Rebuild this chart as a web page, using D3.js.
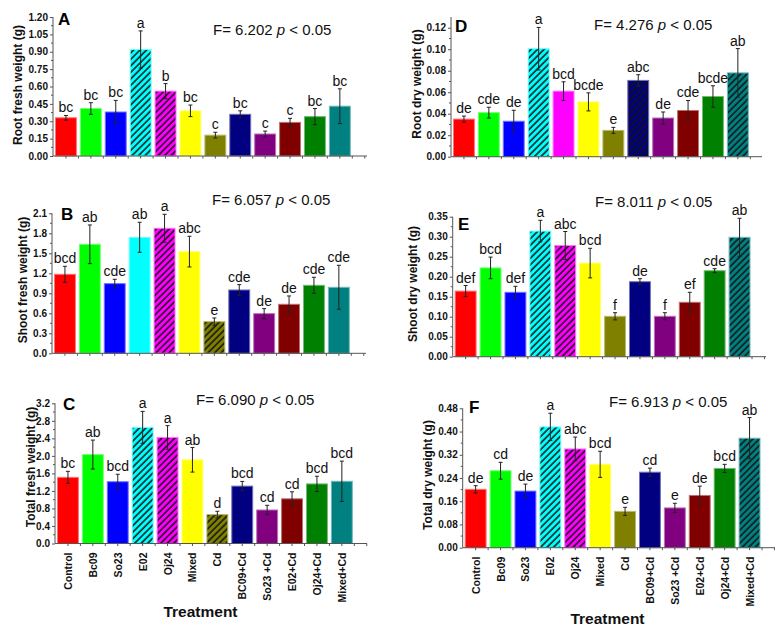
<!DOCTYPE html>
<html><head><meta charset="utf-8">
<script src="https://cdnjs.cloudflare.com/ajax/libs/d3/7.8.5/d3.min.js"></script>
<style>
html,body{margin:0;padding:0;background:#fff;}
svg{display:block;font-family:"Liberation Sans",Arial,Helvetica,sans-serif;}
</style></head>
<body><svg id="chart" width="782" height="633"></svg>
<script>
const categories = ["Control","Bc09","So23","E02","Oj24","Mixed","Cd","BC09+Cd","So23 +Cd","E02+Cd","Oj24+Cd","Mixed+Cd"];
const colors = ["#ff0000","#00ff00","#0000ff","#00ffff","#ff00ff","#ffff00","#808000","#000080","#800080","#800000","#008000","#008080"];

const rootFresh = [0.33,0.41,0.38,0.92,0.56,0.39,0.18,0.36,0.19,0.29,0.34,0.43];
const rootFreshErr = [0.02,0.05,0.10,0.16,0.065,0.05,0.025,0.03,0.025,0.035,0.07,0.15];
const rootFreshLetters = ["bc","bc","bc","a","b","bc","c","bc","c","c","bc","bc"];
const rootFreshHatch = [3,4];

const shootFresh = [1.185,1.635,1.045,1.74,1.875,1.525,0.475,0.95,0.595,0.735,1.02,0.99];
const shootFreshErr = [0.12,0.29,0.065,0.225,0.21,0.23,0.055,0.08,0.075,0.125,0.12,0.33];
const shootFreshLetters = ["bcd","ab","cde","ab","a","abc","e","cde","de","de","cde","cde"];
const shootFreshHatch = [4,6];

const totalFresh = [1.51,2.03,1.41,2.65,2.42,1.91,0.66,1.31,0.765,1.02,1.36,1.42];
const totalFreshErr = [0.137,0.33,0.17,0.365,0.27,0.28,0.076,0.107,0.107,0.16,0.175,0.46];
const totalFreshLetters = ["bc","ab","bcd","a","a","ab","d","bcd","cd","cd","bcd","bcd"];
const totalFreshHatch = [3,4,6];

const rootDry = [0.035,0.041,0.033,0.1005,0.061,0.051,0.0245,0.071,0.036,0.043,0.056,0.078];
const rootDryErr = [0.0028,0.005,0.0102,0.0198,0.0087,0.0084,0.0028,0.0053,0.0056,0.0093,0.01,0.0226];
const rootDryLetters = ["de","cde","de","a","bcd","bcde","e","abc","de","cde","bcde","ab"];
const rootDryHatch = [3,7,11];

const shootDry = [0.164,0.222,0.161,0.314,0.278,0.234,0.101,0.1875,0.101,0.136,0.215,0.2985];
const shootDryErr = [0.014,0.027,0.015,0.027,0.035,0.037,0.009,0.0075,0.009,0.025,0.005,0.0475];
const shootDryLetters = ["def","bcd","def","a","abc","bcd","f","de","f","ef","cde","ab"];
const shootDryHatch = [3,4,11];

const totalDry = [0.201,0.265,0.195,0.416,0.34,0.287,0.125,0.26,0.137,0.18,0.273,0.377];
const totalDryErr = [0.0126,0.029,0.024,0.047,0.041,0.045,0.014,0.014,0.016,0.032,0.014,0.071];
const totalDryLetters = ["de","cd","de","a","abc","bcd","e","cd","e","de","bcd","ab"];
const totalDryHatch = [3,4,11];

const yTicksA = [0,0.15,0.30,0.45,0.60,0.75,0.90,1.05,1.20];
const yTicksB = [0,0.3,0.6,0.9,1.2,1.5,1.8,2.1];
const yTicksC = [0,0.4,0.8,1.2,1.6,2.0,2.4,2.8,3.2];
const yTicksD = [0,0.02,0.04,0.06,0.08,0.10,0.12];
const yTicksE = [0,0.05,0.10,0.15,0.20,0.25,0.30,0.35];
const yTicksF = [0,0.08,0.16,0.24,0.32,0.40,0.48];

const panels = [
  {id:"A", vals:rootFresh, err:rootFreshErr, letters:rootFreshLetters, hatch:rootFreshHatch, ticks:yTicksA, fmt:".2f", max:1.2,
   title:"Root fresh weight (g)", F:"6.202", x0:53, xEnd:367, yTop:17, yBot:156, tcx:17.5, tcy:85,
   lx:58, ly:25, fx:213, fy:35, xlabels:false},
  {id:"B", vals:shootFresh, err:shootFreshErr, letters:shootFreshLetters, hatch:shootFreshHatch, ticks:yTicksB, fmt:".1f", max:2.1,
   title:"Shoot fresh weight (g)", F:"6.057", x0:52, xEnd:366, yTop:213.3, yBot:353.3, tcx:22.5, tcy:280,
   lx:61, ly:220, fx:212, fy:205, xlabels:false},
  {id:"C", vals:totalFresh, err:totalFreshErr, letters:totalFreshLetters, hatch:totalFreshHatch, ticks:yTicksC, fmt:".1f", max:3.2,
   title:"Total fresh weight (g)", F:"6.090", x0:55, xEnd:367, yTop:403.3, yBot:543.5, tcx:31, tcy:467,
   lx:63, ly:410, fx:196, fy:405, xlabels:true, tx:200.5, ty:617},
  {id:"D", vals:rootDry, err:rootDryErr, letters:rootDryLetters, hatch:rootDryHatch, ticks:yTicksD, fmt:".2f", max:0.13,
   title:"Root dry weight (g)", F:"4.276", x0:451, xEnd:762, yTop:17, yBot:156.7, tcx:416.5, tcy:84,
   lx:455, ly:32, fx:594, fy:30, xlabels:false},
  {id:"E", vals:shootDry, err:shootDryErr, letters:shootDryLetters, hatch:shootDryHatch, ticks:yTicksE, fmt:".2f", max:0.35,
   title:"Shoot dry weight (g)", F:"8.011", x0:452.7, xEnd:766, yTop:216.7, yBot:356.7, tcx:413, tcy:284,
   lx:458, ly:230, fx:595, fy:206.7, xlabels:false},
  {id:"F", vals:totalDry, err:totalDryErr, letters:totalDryLetters, hatch:totalDryHatch, ticks:yTicksF, fmt:".2f", max:0.48,
   title:"Total dry weight (g)", F:"6.913", x0:462.7, xEnd:775, yTop:408.3, yBot:547.7, tcx:428, tcy:475,
   lx:469, ly:413, fx:609, fy:406.7, xlabels:true, tx:607.5, ty:624}
];

const svg = d3.select("#chart");
const defs = svg.append("defs");
colors.forEach((c,i)=>{
  const p = defs.append("pattern").attr("id","hatch"+i).attr("patternUnits","userSpaceOnUse")
    .attr("width",4.6).attr("height",4.6).attr("patternTransform","rotate(45)");
  p.append("rect").attr("width",4.6).attr("height",4.6).attr("fill",c);
  p.append("line").attr("x1",1).attr("x2",1).attr("y1",0).attr("y2",4.6).attr("stroke","#111").attr("stroke-width",1.5);
});

const axisColor = "#555";
const STEP = 24.9;

panels.forEach(P=>{
  const g = svg.append("g");
  const n = categories.length;
  const x = d3.scaleBand().domain(categories).range([P.x0+0.5, P.x0+0.5+STEP*n]).paddingInner(0.16).paddingOuter(0.08);
  const y = d3.scaleLinear().domain([0,P.max]).range([P.yBot, P.yTop]);

  // bars
  const data = categories.map((c,i)=>({c, i, v:P.vals[i], e:P.err[i], l:P.letters[i], h:P.hatch.includes(i)}));
  g.selectAll("rect.bar").data(data).enter().append("rect")
    .attr("x",d=>x(d.c)).attr("width",x.bandwidth())
    .attr("y",d=>y(d.v)).attr("height",d=>y(0)-y(d.v))
    .attr("fill",d=>d.h?`url(#hatch${d.i})`:colors[d.i])
    .attr("stroke",d=>d3.interpolateRgb(colors[d.i],"#ffffff")(0.45)).attr("stroke-width",1);

  // error bars
  const eb = g.selectAll("g.eb").data(data).enter().append("g").attr("stroke","#222").attr("stroke-width",1);
  eb.append("line").attr("x1",d=>x(d.c)+x.bandwidth()/2).attr("x2",d=>x(d.c)+x.bandwidth()/2)
    .attr("y1",d=>y(d.v-d.e)).attr("y2",d=>y(d.v+d.e));
  eb.append("line").attr("x1",d=>x(d.c)+x.bandwidth()/2-2).attr("x2",d=>x(d.c)+x.bandwidth()/2+2)
    .attr("y1",d=>y(d.v+d.e)).attr("y2",d=>y(d.v+d.e));
  eb.append("line").attr("x1",d=>x(d.c)+x.bandwidth()/2-2).attr("x2",d=>x(d.c)+x.bandwidth()/2+2)
    .attr("y1",d=>y(d.v-d.e)).attr("y2",d=>y(d.v-d.e));

  // letters
  g.selectAll("text.let").data(data).enter().append("text")
    .attr("x",d=>x(d.c)+x.bandwidth()/2).attr("y",d=>y(d.v+d.e)-3)
    .attr("text-anchor","middle").attr("font-size",14).attr("fill","#111").text(d=>d.l);

  // y axis
  const yAxis = d3.axisLeft(y).tickValues(P.ticks).tickFormat(d3.format(P.fmt)).tickSize(3).tickPadding(2);
  const ya = g.append("g").attr("transform",`translate(${P.x0},0)`).call(yAxis);
  ya.select(".domain").attr("stroke",axisColor).attr("d",`M0,${y(0)}V${y(P.max)}`);
  ya.selectAll(".tick line").attr("stroke",axisColor);
  ya.selectAll(".tick text").attr("font-size",10).attr("font-weight","bold").attr("fill","#111")
    .attr("font-family","'Liberation Sans',Arial,sans-serif");
  // minor ticks
  const minors = d3.range(P.ticks.length-1).map(k=>(P.ticks[k]+P.ticks[k+1])/2);
  g.selectAll("line.minor").data(minors).enter().append("line")
    .attr("x1",P.x0-2).attr("x2",P.x0).attr("y1",d=>y(d)).attr("y2",d=>y(d)).attr("stroke",axisColor);

  // x axis
  g.append("line").attr("x1",P.x0).attr("x2",P.xEnd).attr("y1",y(0)).attr("y2",y(0)).attr("stroke",axisColor);
  const xt = d3.range(0,2*n+2).map(k=>x.range()[0]+x.step()*x.paddingOuter()+x.bandwidth()/2 - 0 + k*x.step()/2).filter(v=>v<=P.xEnd);
  g.selectAll("line.xt").data(xt).enter().append("line")
    .attr("x1",d=>d).attr("x2",d=>d).attr("y1",y(0)).attr("y2",y(0)+2.5).attr("stroke",axisColor);

  // y title
  g.append("text").attr("transform",`translate(${P.tcx},${P.tcy}) rotate(-90)`)
    .attr("text-anchor","middle").attr("dominant-baseline","central")
    .attr("font-size",12).attr("font-weight","bold").attr("fill","#111").text(P.title);

  // panel letter
  g.append("text").attr("x",P.lx).attr("y",P.ly).attr("font-size",17).attr("font-weight","bold").attr("fill","#000").text(P.id);

  // F statistic
  const ft = g.append("text").attr("x",P.fx).attr("y",P.fy).attr("font-size",15).attr("fill","#111");
  ft.append("tspan").text("F= "+P.F+" ");
  ft.append("tspan").attr("font-style","italic").text("p");
  ft.append("tspan").text(" < 0.05");

  // x labels
  if (P.xlabels){
    g.selectAll("text.xl").data(data).enter().append("text")
      .attr("transform",d=>`translate(${x(d.c)+x.bandwidth()/2},${y(0)+9}) rotate(-90)`)
      .attr("text-anchor","end").attr("dominant-baseline","central")
      .attr("font-size",10.5).attr("font-weight","bold").attr("fill","#111").text(d=>d.c);
    g.append("text").attr("x",P.tx).attr("y",P.ty).attr("text-anchor","middle")
      .attr("font-size",15.5).attr("font-weight","bold").attr("fill","#111").text("Treatment");
  }
});
</script></body></html>
